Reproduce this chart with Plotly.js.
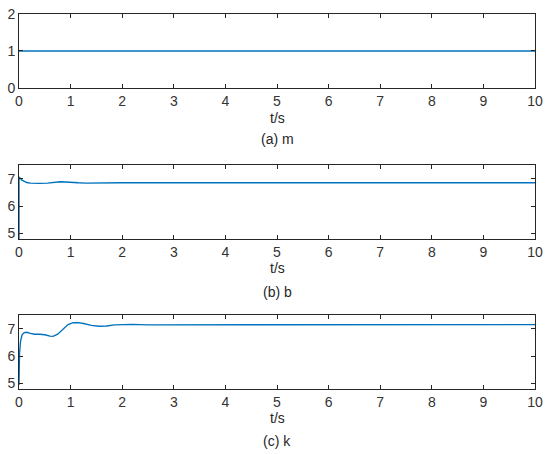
<html lang="en">
  <head>
    <meta charset="UTF-8" />
    <script src="https://cdn.plot.ly/plotly-3.0.1.min.js"></script>
    <title>m b k</title>
    <style>
      body { margin: 0; background: #fff; }
    </style>
  </head>
  <body>
    <div id="chart" style="width: 550px; height: 454px;"></div>
    <script>
      // time axis ticks
      const xTicks = [0, 1, 2, 3, 4, 5, 6, 7, 8, 9, 10];

      // (a) m
      const tM = [0, 10];
      const mVals = [1, 1];

      // (b) b
      const tB = [0, 0, 0.05, 0.1, 0.15, 0.22, 0.3, 0.4, 0.55, 0.7, 0.8, 0.9, 1.0, 1.15, 1.3, 1.6, 2.0, 10];
      const bVals = [4.8, 7.06, 6.96, 6.9, 6.86, 6.84, 6.83, 6.83, 6.84, 6.87, 6.89, 6.88, 6.86, 6.85, 6.84, 6.85, 6.85, 6.85];

      // (c) k
      const tK = [0, 0.01, 0.03, 0.06, 0.1, 0.15, 0.22, 0.3, 0.4, 0.5, 0.6, 0.66, 0.75, 0.85, 0.95, 1.05, 1.15, 1.25, 1.4, 1.55, 1.7, 1.85, 2.0, 2.2, 2.5, 3, 4, 10];
      const kVals = [4.95, 6.1, 6.55, 6.78, 6.86, 6.87, 6.83, 6.8, 6.8, 6.78, 6.73, 6.72, 6.8, 6.98, 7.15, 7.22, 7.22, 7.19, 7.12, 7.09, 7.1, 7.14, 7.16, 7.16, 7.14, 7.14, 7.15, 7.15];

      const subTitles = ['(a) m', '(b) b', '(c) k'];

      const lineStyle = { color: '#0072BD', width: 1.4 };
      const traces = [
        { x: tM, y: mVals, xaxis: 'x', yaxis: 'y', type: 'scatter', mode: 'lines', line: lineStyle },
        { x: tB, y: bVals, xaxis: 'x2', yaxis: 'y2', type: 'scatter', mode: 'lines', line: lineStyle },
        { x: tK, y: kVals, xaxis: 'x3', yaxis: 'y3', type: 'scatter', mode: 'lines', line: lineStyle }
      ];

      const axisBase = {
        showgrid: false,
        zeroline: false,
        showline: true,
        mirror: 'ticks',
        linecolor: '#262626',
        linewidth: 1,
        ticks: 'inside',
        ticklen: 4,
        tickcolor: '#262626',
        tickfont: { family: 'Liberation Sans, Arial, sans-serif', size: 14, color: '#333' }
      };
      const xAxis = (anchor) => Object.assign({}, axisBase, {
        anchor: anchor, range: [0, 10], tickvals: xTicks, domain: [0, 1]
      });

      const layout = {
        width: 550,
        height: 454,
        margin: { l: 19, r: 15, t: 14, b: 65 },
        showlegend: false,
        paper_bgcolor: '#fff',
        plot_bgcolor: '#fff',
        xaxis: xAxis('y'),
        xaxis2: xAxis('y2'),
        xaxis3: xAxis('y3'),
        yaxis: Object.assign({}, axisBase, { anchor: 'x', domain: [0.8027, 1], range: [0, 2], tickvals: [0, 1, 2] }),
        yaxis2: Object.assign({}, axisBase, { anchor: 'x2', domain: [0.4, 0.5973], range: [4.8, 7.5], tickvals: [5, 6, 7] }),
        yaxis3: Object.assign({}, axisBase, { anchor: 'x3', domain: [0, 0.1973], range: [4.8, 7.5], tickvals: [5, 6, 7] }),
        annotations: []
      };

      // axis labels and sub-captions
      const labelY = [0.7227, 0.3227, -0.0773];
      const capY = [0.6667, 0.2587, -0.1387];
      const txtFont = { family: 'Liberation Sans, Arial, sans-serif', size: 14, color: '#262626' };
      for (let i = 0; i < 3; i++) {
        layout.annotations.push({ text: 't/s', xref: 'paper', yref: 'paper', x: 0.5, y: labelY[i], yanchor: 'middle', showarrow: false, font: txtFont });
        layout.annotations.push({ text: subTitles[i], xref: 'paper', yref: 'paper', x: 0.5, y: capY[i], yanchor: 'middle', showarrow: false, font: txtFont });
      }

      Plotly.newPlot('chart', traces, layout, { staticPlot: true });
    </script>
  </body>
</html>
